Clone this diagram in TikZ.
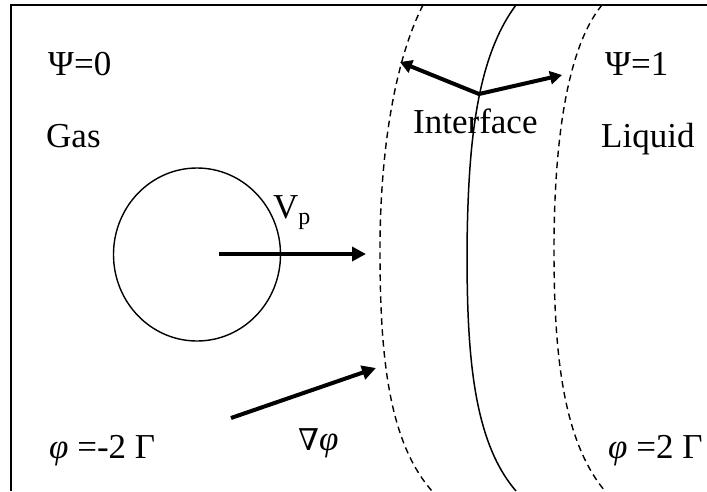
\documentclass[tikz,border=0pt]{standalone}
\usepackage{fontspec}
\setmainfont{Liberation Serif}
\newfontfamily\nablafont{DejaVu Serif}
\usetikzlibrary{arrows.meta}
\newcommand\bigtxt{\fontsize{35}{42}\selectfont}
\tikzset{
  lbl/.style={inner sep=0pt, anchor=base west, font=\bigtxt},
  fat/.style={line width=4pt, -{Triangle[length=14pt,width=14pt]}},
  fatboth/.style={line width=4pt, {Triangle[length=12pt,width=13pt]}-{Triangle[length=12pt,width=13pt]}, line join=miter},
  bound/.style={line width=1.4pt, dash pattern=on 6.5pt off 4.5pt},
  iface/.style={line width=1.5pt},
  frame/.style={line width=2.2pt}
}
\begin{document}
\begin{tikzpicture}[x=1pt,y=-1pt]
\useasboundingbox[fill=white] (0,0) rectangle (707,491);
% frame
\draw[frame] (11,491) -- (11,5) -- (707,5);
% bubble
\draw[line width=1.4pt] (197,254.5) ellipse [x radius=83.5pt, y radius=86.5pt];
% interface lines
\draw[iface] (516,5) .. controls (475,60) and (468,150) .. (467,250)
             .. controls (467,350) and (472,440) .. (516,491);
\draw[bound] (423,5) .. controls (395,60) and (380,150) .. (380,250)
             .. controls (380,350) and (387,440) .. (432,491);
\draw[bound] (602,5) .. controls (565,50) and (554,150) .. (554,250)
             .. controls (554,350) and (562,440) .. (605,491);
% labels
\node[lbl] (psi0) at (48,75) {Ψ=0};
\node[lbl] (gas) at (46,147) {Gas};
\node[lbl] (psi1) at (605,75) {Ψ=1};
\node[lbl] (liquid) at (601,147) {Liquid};
\node[lbl] (ifacelbl) at (413,133) {Interface};
\node[lbl] (vp) at (273,218) {V\raisebox{-6pt}{\fontsize{24}{24}\selectfont p}};
\node[lbl] (phil) at (49,458) {\textit{φ} =-2 Γ};
\node[lbl] (phir) at (608,458) {\textit{φ} =2 Γ};
\node[lbl] (grad) at (298,450) {{\nablafont\fontsize{30}{36}\selectfont ∇}\textit{φ}};
% arrows
\coordinate (vpS) at (219,254);
\coordinate (vpE) at (366,254);
\draw[fat] (vpS) -- (vpE);
\coordinate (gS) at (231,418);
\coordinate (gE) at (376,368);
\draw[fat] (gS) -- (gE);
\coordinate (ic) at (479,94);
\coordinate (iL) at (400,62);
\coordinate (iR) at (562,75);
\draw[fatboth] (iL) -- (ic) -- (iR);
\end{tikzpicture}
\end{document}
